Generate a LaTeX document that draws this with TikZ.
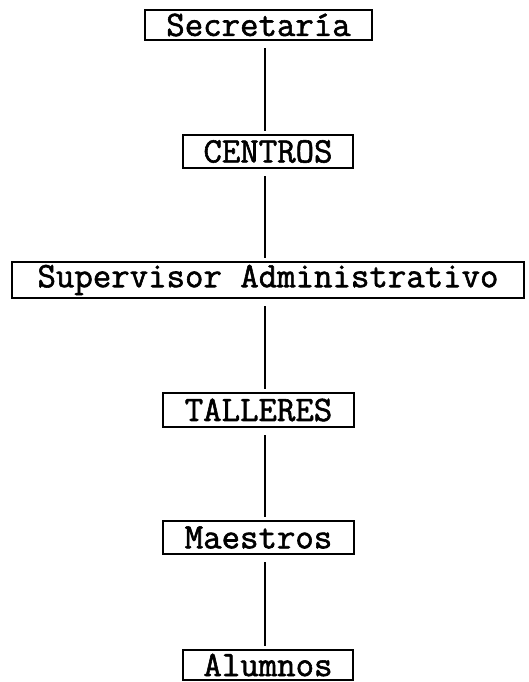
\documentclass[tikz,border=0pt]{standalone}
\usepackage{fontspec}
\newfontfamily\maquina{Latin Modern Mono}[FakeBold=1.6]
\usetikzlibrary{positioning}
\begin{document}
\begin{tikzpicture}[x=1pt,y=-1pt,
  caja/.style={draw, rectangle, line width=1.4pt, inner sep=0pt,
    font=\maquina\fontsize{35.8}{40}\selectfont},
  linea/.style={line width=1.6pt, shorten <=7.5pt, shorten >=3.5pt}]

  % Fixed bounding box
  \path[use as bounding box] (0,0) rectangle (528,682);
  \coordinate (eje) at (265,0);

  % Boxes, top to bottom
  \node[caja, minimum width=227pt, minimum height=30pt] (sec) at (258.5,25) {Secretaría};
  \node[caja, minimum width=170pt, minimum height=33pt] (cen) at (268,151.5) {CENTROS};
  \node[caja, minimum width=512pt, minimum height=36pt] (sup) at (268,280) {Supervisor Administrativo};
  \node[caja, minimum width=191pt, minimum height=34pt] (tal) at (258.5,410) {TALLERES};
  \node[caja, minimum width=191pt, minimum height=33pt] (mae) at (258.5,537.5) {Maestros};
  \node[caja, minimum width=170pt, minimum height=30pt] (alu) at (268,665) {Alumnos};

  % Vertical connectors
  \foreach \a/\b in {sec/cen, cen/sup, sup/tal, tal/mae, mae/alu}
    \draw[linea] (\a.south -| eje) -- (\b.north -| eje);

\end{tikzpicture}
\end{document}
